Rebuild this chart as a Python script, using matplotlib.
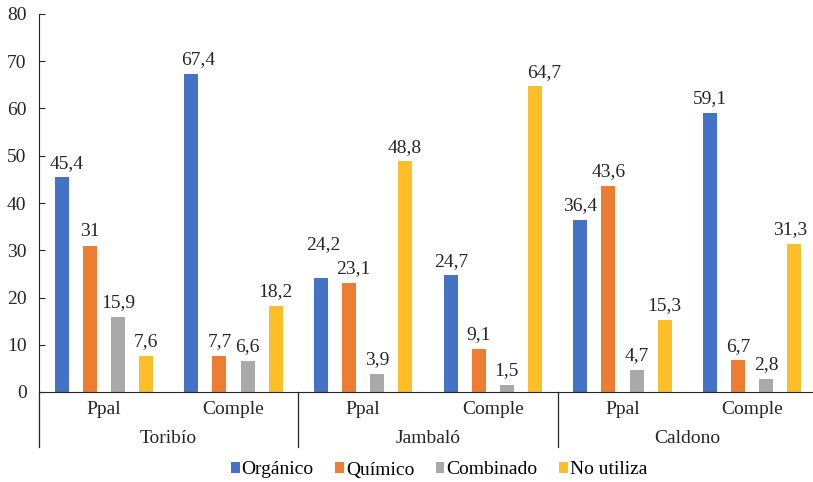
import matplotlib.pyplot as plt
import matplotlib.transforms as mtransforms
from matplotlib.patches import Patch
import numpy as np

plt.rcParams["font.family"] = ["Liberation Serif", "DejaVu Serif"]

municipios = ["Toribío", "Jambaló", "Caldono"]
tipos = ["Ppal", "Comple"]
series = ["Orgánico", "Químico", "Combinado", "No utiliza"]
colores = ["#4472C4", "#ED7D31", "#A9A9A9", "#FDBE2A"]

organico = [45.4, 67.4, 24.2, 24.7, 36.4, 59.1]
quimico = [31, 7.7, 23.1, 9.1, 43.6, 6.7]
combinado = [15.9, 6.6, 3.9, 1.5, 4.7, 2.8]
no_utiliza = [7.6, 18.2, 48.8, 64.7, 15.3, 31.3]

valores = [organico, quimico, combinado, no_utiliza]
texto = "#262626"
tam = 14

# nudges (pixels) for labels that would collide or sit against an edge
ajustes = {(0, 0): (5, 0), (0, 1): (7, 0), (0, 2): (2, 19),
           (1, 2): (4, 0), (3, 3): (9, 0), (3, 5): (-4, 0)}


def fmt(v):
    if float(v).is_integer():
        return str(int(v))
    return f"{v:.1f}".replace(".", ",")


fig = plt.figure(figsize=(8.13, 4.82), dpi=100)
# plot area runs a little past the right edge of the figure
ax = fig.add_axes([39 / 813, 1 - 392 / 482, 778 / 813, 378 / 482])

n_grupos = len(organico)
x = np.arange(n_grupos)
ancho = 0.108
paso = 0.216

for i, (vals, color) in enumerate(zip(valores, colores)):
    pos = x + (i - 1.5) * paso
    ax.bar(pos, vals, width=ancho, color=color, zorder=2)
    for g, (px, v) in enumerate(zip(pos, vals)):
        dx, dy = ajustes.get((i, g), (0, 0))
        ax.annotate(fmt(v), (px, v), xytext=(dx * 0.72, 4 + dy * 0.72),
                    textcoords="offset points", ha="center", va="bottom",
                    fontsize=tam, color=texto, annotation_clip=False)

ax.set_xlim(-0.5, n_grupos - 0.5)
ax.set_ylim(0, 80)
ax.set_yticks(range(0, 81, 10))
ax.tick_params(axis="y", labelsize=tam, length=4, direction="in",
               colors=texto, pad=9)
ax.tick_params(axis="x", bottom=False, labelbottom=False)

for lado in ["top", "right"]:
    ax.spines[lado].set_visible(False)
ax.spines["left"].set_color(texto)
ax.spines["bottom"].set_color(texto)

# two-level category axis under the bars
trans = mtransforms.blended_transform_factory(ax.transData, ax.transAxes)
for g in range(n_grupos):
    ax.text(g, -0.047, tipos[g % 2], transform=trans, ha="center",
            va="center", fontsize=tam, color=texto)
for m, nombre in enumerate(municipios):
    ax.text(2 * m + 0.5, -0.124, nombre, transform=trans, ha="center",
            va="center", fontsize=tam, color=texto)
for sep in [-0.5, 1.5, 3.5]:
    ax.plot([sep, sep], [0, -0.146], transform=trans, color=texto,
            lw=0.9, clip_on=False)

handles = [Patch(facecolor=c, edgecolor="none") for c in colores]
fig.legend(handles, series, loc="center", bbox_to_anchor=(0.54, 1 - 470 / 482),
           ncol=4, frameon=False, fontsize=tam, handlelength=0.45,
           handleheight=0.45, handletextpad=0.1, columnspacing=1.1)

fig.savefig("out.png", dpi=100)
